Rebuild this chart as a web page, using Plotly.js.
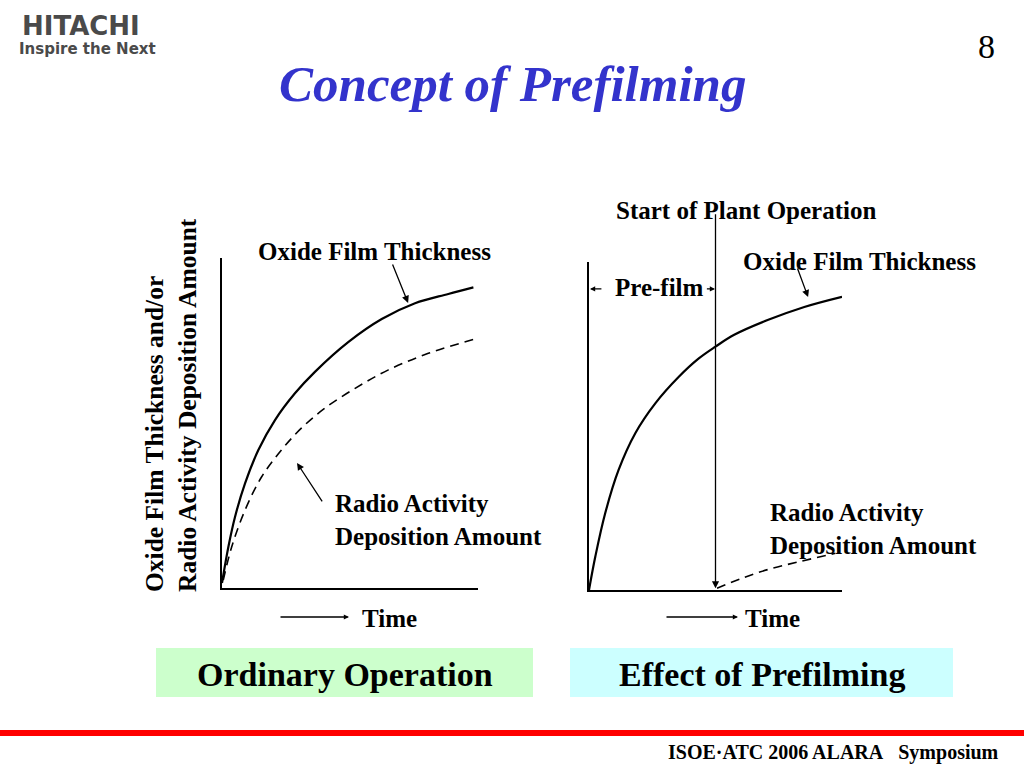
<!DOCTYPE html>
<html>
<head>
<meta charset="utf-8">
<script src="https://cdn.plot.ly/plotly-3.0.1.min.js"></script>
<style>html,body{margin:0;padding:0;background:#fff;}#chart{width:1024px;height:768px;}</style>
</head>
<body>
<div id="chart"></div>
<script>
// ---- Data (conceptual; arbitrary units 0-10) ----
// Left panel: Ordinary Operation
const ordTime      = [0, 0.25, 0.51, 0.90, 1.42, 2.07, 2.85, 3.63, 4.93, 6.24, 7.54, 8.84, 9.82];
const ordOxide     = [0.15, 1.25, 2.16, 3.17, 4.18, 5.09, 5.90, 6.55, 7.45, 8.15, 8.63, 8.91, 9.11];
const ordDepTime   = [0.05, 0.38, 0.90, 1.55, 2.33, 3.11, 4.02, 5.20, 6.50, 8.06, 10.0];
const ordDeposit   = [0.24, 1.25, 2.36, 3.37, 4.19, 4.85, 5.45, 6.05, 6.61, 7.11, 7.57];
// Right panel: Effect of Prefilming
const preTime      = [0, 0.25, 0.64, 1.17, 1.83, 2.62, 3.55, 4.34, 5.00, 5.74, 7.06, 8.51, 10.0];
const preOxide     = [0, 1.02, 2.34, 3.66, 4.78, 5.69, 6.50, 7.06, 7.42, 7.78, 8.23, 8.63, 8.94];
const preDepTime   = [5.06, 6.05, 7.10, 8.29, 9.74];
const preDeposit   = [0.05, 0.36, 0.63, 0.86, 1.12];
const plantStart   = 5.0;   // start of plant operation (time)

const serif = "Liberation Serif, Times New Roman, serif";
const px = x => x / 1024;
const py = y => 1 - y / 768;

const traces = [
  {x: ordTime, y: ordOxide, xaxis: 'x', yaxis: 'y', mode: 'lines',
   line: {color: '#000', width: 2.2, shape: 'spline', smoothing: 1}, hoverinfo: 'skip'},
  {x: ordDepTime, y: ordDeposit, xaxis: 'x', yaxis: 'y', mode: 'lines',
   line: {color: '#000', width: 1.6, dash: '9px,6px', shape: 'spline', smoothing: 1}, hoverinfo: 'skip'},
  {x: preTime, y: preOxide, xaxis: 'x2', yaxis: 'y2', mode: 'lines',
   line: {color: '#000', width: 2.2, shape: 'spline', smoothing: 1}, hoverinfo: 'skip'},
  {x: preDepTime, y: preDeposit, xaxis: 'x2', yaxis: 'y2', mode: 'lines',
   line: {color: '#000', width: 1.6, dash: '9px,6px', shape: 'spline', smoothing: 1}, hoverinfo: 'skip'}
];

const axBase = {showline: true, linecolor: '#000', linewidth: 1.6, showgrid: false, zeroline: false,
  ticks: '', showticklabels: false, fixedrange: true};

function txt(x, y, text, size, opts) {
  return Object.assign({xref: 'paper', yref: 'paper', x: px(x), y: py(y), text: text, showarrow: false,
    xanchor: 'left', yanchor: 'middle',
    font: {family: serif, size: size, color: '#000', weight: 'bold'}}, opts || {});
}
function arrow(xr, yr, x, y, ax, ay, head, size) {
  return {xref: xr, yref: yr, axref: xr, ayref: yr, x: x, y: y, ax: ax, ay: ay, text: '',
    showarrow: true, arrowhead: head, arrowsize: size || 1, arrowwidth: 1.3, arrowcolor: '#000'};
}

const LBL = 25;
const annotations = [
  // Logo
  txt(20, 26, 'HITACHI', 26, {font: {family: 'DejaVu Sans, sans-serif', size: 26, color: '#4a4a4a', weight: 'bold'}}),
  txt(17, 49, 'Inspire the Next', 15, {font: {family: 'DejaVu Sans, sans-serif', size: 15, color: '#4a4a4a', weight: 'bold'}}),
  // Title and page number
  txt(512, 84, 'Concept of Prefilming', 51, {xanchor: 'center',
    font: {family: serif, size: 51, color: '#3333cc', weight: 'bold', style: 'italic'}}),
  txt(986, 47, '8', 34, {xanchor: 'center', font: {family: serif, size: 34, color: '#000'}}),
  // Y axis title (shared)
  {xref: 'paper', yref: 'paper', x: px(171), y: py(405), showarrow: false, textangle: -90, align: 'left',
   xanchor: 'center', yanchor: 'middle',
   text: 'Oxide Film Thickness and/or<br>Radio Activity Deposition Amount',
   font: {family: serif, size: 25.5, color: '#000', weight: 'bold'}},
  // Left panel labels
  txt(256, 251, 'Oxide Film Thickness', LBL),
  txt(333, 520, 'Radio Activity<br>Deposition Amount', LBL, {align: 'left'}),
  txt(360, 618, 'Time', LBL),
  // Right panel labels
  txt(614, 210, 'Start of Plant Operation', LBL),
  txt(741, 261, 'Oxide Film Thickness', LBL),
  txt(613, 287, 'Pre-film', LBL),
  txt(768, 529, 'Radio Activity<br>Deposition Amount', LBL, {align: 'left'}),
  txt(743, 618, 'Time', LBL),
  // Bottom captions
  txt(345, 674, 'Ordinary Operation', 34, {xanchor: 'center'}),
  txt(762, 674, 'Effect of Prefilming', 34, {xanchor: 'center'}),
  // Footer
  txt(1001, 752, 'ISOE\u00b7ATC 2006 ALARA\u00a0\u00a0\u00a0Symposium', 20, {xanchor: 'right'}),
  // Arrows: left panel
  arrow('x', 'y', 7.27, 8.64, 6.64, 9.85, 2, 1.1),
  arrow('x', 'y', 2.93, 3.79, 3.95, 2.58, 2, 1.1),
  // Arrows: right panel
  arrow('x2', 'y2', 8.66, 8.93, 8.22, 9.85, 2, 1.1),
  arrow('x2', 'y2', plantStart, 0.05, plantStart, 11.5, 2, 1.1),
  arrow('x2', 'y2', 0.04, 9.18, 0.55, 9.18, 2, 0.8),
  arrow('x2', 'y2', plantStart - 0.02, 9.18, plantStart - 0.4, 9.18, 2, 0.8),
  // Time arrows
  {xref: 'paper', yref: 'paper', axref: 'pixel', ayref: 'pixel', x: px(349), y: py(617), ax: -70, ay: 0,
   text: '', showarrow: true, arrowhead: 2, arrowsize: 0.8, arrowwidth: 1.3, arrowcolor: '#000'},
  {xref: 'paper', yref: 'paper', axref: 'pixel', ayref: 'pixel', x: px(738), y: py(617), ax: -73, ay: 0,
   text: '', showarrow: true, arrowhead: 2, arrowsize: 0.8, arrowwidth: 1.3, arrowcolor: '#000'}
];

const shapes = [
  {type: 'rect', xref: 'paper', yref: 'paper', x0: px(156), x1: px(533), y0: py(697), y1: py(648),
   fillcolor: '#ccffcc', line: {width: 0}, layer: 'below'},
  {type: 'rect', xref: 'paper', yref: 'paper', x0: px(570), x1: px(953), y0: py(697), y1: py(648),
   fillcolor: '#ccffff', line: {width: 0}, layer: 'below'},
  {type: 'rect', xref: 'paper', yref: 'paper', x0: 0, x1: 1, y0: py(736), y1: py(730),
   fillcolor: '#ff0000', line: {width: 0}}
];

const layout = {
  width: 1024, height: 768, margin: {l: 0, r: 0, t: 0, b: 0},
  paper_bgcolor: '#fff', plot_bgcolor: 'rgba(0,0,0,0)', showlegend: false,
  xaxis: Object.assign({}, axBase, {domain: [px(222), px(478)], range: [0, 10], anchor: 'y'}),
  yaxis: Object.assign({}, axBase, {domain: [py(588), py(258)], range: [0, 10], anchor: 'x'}),
  xaxis2: Object.assign({}, axBase, {domain: [px(589), px(842)], range: [0, 10], anchor: 'y2'}),
  yaxis2: Object.assign({}, axBase, {domain: [py(590), py(262)], range: [0, 10], anchor: 'x2'}),
  annotations: annotations, shapes: shapes
};

Plotly.newPlot('chart', traces, layout, {displayModeBar: false, staticPlot: true});
</script>
</body>
</html>
